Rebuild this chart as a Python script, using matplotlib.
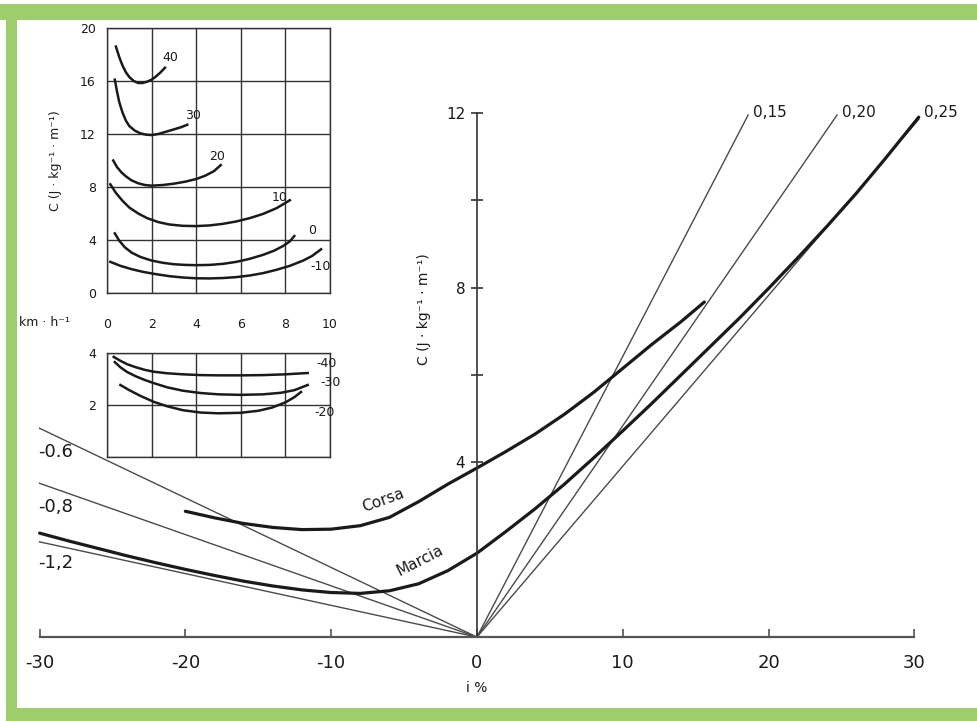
import numpy as np
import matplotlib.pyplot as plt
from matplotlib.patches import Rectangle

plt.rcParams['font.family'] = ['DejaVu Sans']
plt.rcParams['axes.unicode_minus'] = False

# main chart: cost C vs slope i %
corsa_i = [-20, -18, -16, -14, -12, -10, -8, -6, -4, -2, 0, 2, 4, 6, 8, 10, 12, 14, 15.6]
corsa_c = [2.88, 2.73, 2.6, 2.51, 2.46, 2.47, 2.55, 2.74, 3.1, 3.5, 3.87, 4.25, 4.65,
           5.1, 5.6, 6.15, 6.7, 7.22, 7.67]

marcia_i = [-30, -28, -26, -24, -22, -20, -18, -16, -14, -12, -10, -8, -6, -4, -2, 0,
            2, 4, 6, 8, 10, 12, 14, 16, 18, 20, 22, 24, 26, 28, 30.3]
marcia_c = [2.38, 2.2, 2.03, 1.86, 1.7, 1.55, 1.41, 1.28, 1.17, 1.08, 1.02, 1.0, 1.06,
            1.22, 1.52, 1.92, 2.42, 2.94, 3.5, 4.1, 4.72, 5.35, 6.0, 6.65, 7.3, 7.98,
            8.68, 9.4, 10.15, 10.95, 11.9]

# efficiency lines from origin (end points)
pos_names = ['0,15', '0,20', '0,25']
pos_end_i = [18.6, 24.7, 30.3]
pos_end_c = [11.95, 11.95, 11.85]

neg_names = ['-0.6', '-0,8', '-1,2']
neg_end_i = [-30, -30, -30]
neg_end_c = [4.78, 3.52, 2.18]

# inset (top): C vs speed km/h, for slopes
top_labels = ['40', '30', '20', '10', '0', '-10']
top_v = [
    [0.4, 0.55, 0.7, 0.85, 1.0, 1.2, 1.4, 1.6, 1.8, 2.0, 2.2, 2.4, 2.6],
    [0.35, 0.45, 0.55, 0.7, 0.85, 1.0, 1.25, 1.5, 1.75, 2.0, 2.3, 2.6, 3.0, 3.3, 3.6],
    [0.28, 0.45, 0.65, 0.85, 1.1, 1.4, 1.7, 2.0, 2.5, 3.0, 3.5, 4.0, 4.4, 4.8, 5.1],
    [0.15, 0.4, 0.7, 1.0, 1.4, 1.8, 2.3, 2.8, 3.4, 4.0, 4.6, 5.2, 5.8, 6.4, 7.0, 7.6, 8.2],
    [0.35, 0.55, 0.8, 1.1, 1.5, 2.0, 2.5, 3.0, 3.5, 4.0, 4.6, 5.2, 5.8, 6.4, 7.0, 7.5,
     7.9, 8.2, 8.4],
    [0.15, 0.6, 1.1, 1.6, 2.2, 2.8, 3.4, 4.0, 4.6, 5.2, 5.8, 6.4, 7.0, 7.6, 8.2, 8.8,
     9.2, 9.6],
]
top_c = [
    [18.6, 17.8, 17.15, 16.65, 16.3, 16.0, 15.85, 15.85, 15.95, 16.1, 16.35, 16.65, 17.0],
    [16.1, 15.2, 14.4, 13.6, 13.0, 12.6, 12.25, 12.05, 11.95, 11.92, 12.0, 12.15, 12.35,
     12.5, 12.7],
    [10.0, 9.5, 9.1, 8.8, 8.5, 8.28, 8.15, 8.1, 8.15, 8.25, 8.4, 8.6, 8.85, 9.2, 9.65],
    [8.2, 7.55, 6.95, 6.45, 6.0, 5.65, 5.35, 5.17, 5.07, 5.05, 5.1, 5.22, 5.4, 5.65, 5.97,
     6.4, 7.0],
    [4.5, 3.95, 3.45, 3.05, 2.72, 2.45, 2.28, 2.17, 2.12, 2.1, 2.12, 2.2, 2.35, 2.58, 2.88,
     3.2, 3.55, 3.9, 4.3],
    [2.35, 2.05, 1.8, 1.6, 1.42, 1.27, 1.17, 1.11, 1.1, 1.13, 1.2, 1.32, 1.5, 1.75, 2.05,
     2.45, 2.8, 3.3],
]
top_lab_pos = [(2.5, 17.8), (3.5, 13.4), (4.6, 10.3), (7.4, 7.2), (9.0, 4.75), (9.1, 2.0)]

# inset (bottom)
bot_labels = ['-40', '-30', '-20']
bot_v = [
    [0.3, 0.6, 0.9, 1.3, 1.7, 2.1, 2.7, 3.4, 4.2, 5.0, 6.0, 7.0, 8.0, 9.0],
    [0.35, 0.6, 0.9, 1.3, 1.7, 2.1, 2.7, 3.4, 4.2, 5.0, 6.0, 7.0, 7.8, 8.4, 9.0],
    [0.6, 1.0, 1.5, 2.1, 2.7, 3.4, 4.2, 5.0, 6.0, 6.8, 7.4, 8.0, 8.4, 8.7],
]
bot_c = [
    [3.85, 3.7, 3.57, 3.45, 3.35, 3.28, 3.22, 3.18, 3.15, 3.14, 3.14, 3.15, 3.18, 3.23],
    [3.65, 3.45, 3.27, 3.1, 2.96, 2.84, 2.68, 2.55, 2.46, 2.41, 2.39, 2.41, 2.47, 2.57, 2.77],
    [2.77, 2.57, 2.35, 2.12, 1.95, 1.8, 1.71, 1.68, 1.7, 1.78, 1.9, 2.1, 2.3, 2.5],
]
bot_lab_pos = [(9.4, 3.6), (9.55, 2.85), (9.3, 1.73)]

W, H = 977, 721
fig = plt.figure(figsize=(W / 100, H / 100), dpi=100)

ink = '#1a1a1a'
thin = '#4a4a4a'

# ---- main axes
ax = fig.add_axes([20 / W, 21 / H, 955 / W, 675 / H])
ax.set_xlim(-31.34, 34.16)
ax.set_ylim(-1.44, 14.01)
for s in ['top', 'right']:
    ax.spines[s].set_visible(False)
ax.spines['bottom'].set_position(('data', 0))
ax.spines['bottom'].set_bounds(-30, 30)
ax.spines['bottom'].set_color('#555555')
ax.spines['bottom'].set_linewidth(1.6)
ax.spines['left'].set_position(('data', 0))
ax.spines['left'].set_bounds(0, 12)
ax.spines['left'].set_color('#333333')
ax.spines['left'].set_linewidth(1.2)

ax.set_xticks(range(-30, 31, 10))
ax.set_xticklabels([str(v) for v in range(-30, 31, 10)])
ax.tick_params(axis='x', direction='in', length=6, width=1.2, color='#555555',
               labelsize=13, pad=12, labelcolor=ink)
ax.set_yticks([4, 6, 8, 10, 12])
ax.set_yticklabels(['4', '', '8', '', '12'])
ax.tick_params(axis='y', direction='inout', length=9, width=1.2, color='#333333',
               labelsize=11, pad=4, labelcolor=ink)

ax.text(0, -1.17, 'i %', ha='center', va='center', fontsize=10, color=ink)
ax.text(-3.6, 7.5, 'C (J · kg⁻¹ · m⁻¹)', rotation=90, ha='center', va='center',
        fontsize=10, color=ink)

for ei, ec, name in zip(pos_end_i, pos_end_c, pos_names):
    ax.plot([0, ei], [0, ec], color=thin, lw=1.0, clip_on=False)
    ax.text(ei + 0.35, 12.0, name, ha='left', va='center', fontsize=11, color=ink)

for ei, ec, name in zip(neg_end_i, neg_end_c, neg_names):
    ax.plot([0, ei], [0, ec], color=thin, lw=1.0, clip_on=False)

neg_lab_y = [4.24, 2.98, 1.69]
for name, yy in zip(neg_names, neg_lab_y):
    ax.text(-28.9, yy, name, ha='center', va='center', fontsize=13, color=ink)

ax.plot(corsa_i, corsa_c, color=ink, lw=2.3, solid_capstyle='round',
        solid_joinstyle='round', clip_on=False)
ax.plot(marcia_i, marcia_c, color=ink, lw=2.3, solid_capstyle='round',
        solid_joinstyle='round', clip_on=False)
ax.text(-6.45, 3.14, 'Corsa', rotation=20, ha='center', va='center', fontsize=11, color=ink)
ax.text(-3.9, 1.76, 'Marcia', rotation=27, ha='center', va='center', fontsize=11, color=ink)


def style_inset(a):
    for s in a.spines.values():
        s.set_linewidth(1.0)
        s.set_color('#333333')
    a.grid(True, color='#333333', lw=1.0)
    a.set_axisbelow(True)
    a.tick_params(length=0, labelsize=9, labelcolor=ink)


# ---- top inset
ax1 = fig.add_axes([107 / W, (H - 293) / H, 223 / W, 265 / H])
ax1.set_xlim(0, 10)
ax1.set_ylim(0, 20)
ax1.set_xticks(range(0, 11, 2))
ax1.set_yticks(range(0, 21, 4))
style_inset(ax1)
ax1.tick_params(axis='x', pad=18)
ax1.tick_params(axis='y', pad=8)
for v, c in zip(top_v, top_c):
    ax1.plot(v, c, color=ink, lw=1.8, solid_joinstyle='round')
for name, (lx, ly) in zip(top_labels, top_lab_pos):
    ax1.text(lx, ly, name, ha='left', va='center', fontsize=9, color=ink)
ax1.text(-0.23, 0.5, 'C (J · kg⁻¹ · m⁻¹)', rotation=90, transform=ax1.transAxes,
         ha='center', va='center', fontsize=9, color=ink)
ax1.text(-0.28, -0.113, 'km · h⁻¹', transform=ax1.transAxes,
         ha='center', va='center', fontsize=9, color=ink)

# ---- bottom inset
ax2 = fig.add_axes([107 / W, (H - 457) / H, 223 / W, 104 / H])
ax2.set_xlim(0, 10)
ax2.set_ylim(0, 4)
ax2.set_xticks(range(0, 11, 2))
ax2.set_yticks([0, 2, 4])
ax2.set_yticklabels(['', '2', '4'])
ax2.set_xticklabels([])
style_inset(ax2)
ax2.tick_params(axis='y', pad=8)
for v, c in zip(bot_v, bot_c):
    ax2.plot(v, c, color=ink, lw=1.8, solid_joinstyle='round')
for name, (lx, ly) in zip(bot_labels, bot_lab_pos):
    ax2.text(lx, ly, name, ha='left', va='center', fontsize=9, color=ink)

# ---- green frame
green = '#9ccf6b'
fig.add_artist(Rectangle((0, (H - 20) / H), 1, 16 / H, transform=fig.transFigure,
                         color=green, lw=0, zorder=10))
fig.add_artist(Rectangle((6 / W, 0), 11 / W, (H - 4) / H, transform=fig.transFigure,
                         color=green, lw=0, zorder=10))
fig.add_artist(Rectangle((6 / W, 0), 1 - 6 / W, 13 / H, transform=fig.transFigure,
                         color=green, lw=0, zorder=10))

fig.savefig('out.png', dpi=100, facecolor='white')
